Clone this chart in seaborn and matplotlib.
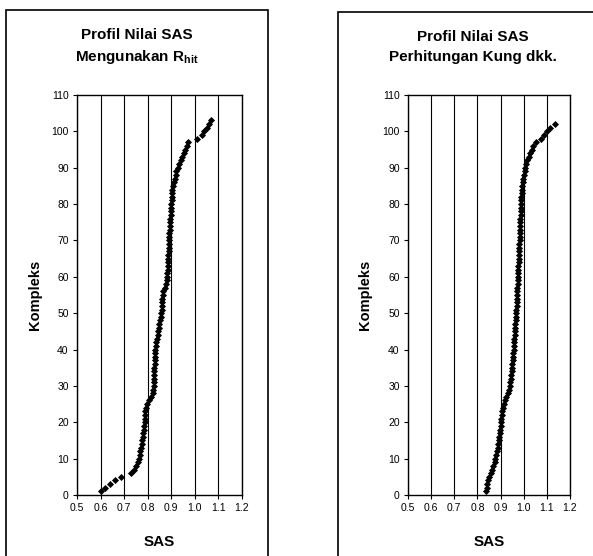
import matplotlib.pyplot as plt
from matplotlib.patches import Rectangle
import pandas as pd
import seaborn as sns

# Nilai SAS terurut (Kompleks = 1..n)
sas_rhit = [0.600, 0.620, 0.640, 0.660, 0.685, 0.727, 0.743, 0.752, 0.758, 0.763,
            0.766, 0.769, 0.771, 0.774, 0.777, 0.779, 0.782, 0.784, 0.786, 0.787,
            0.788, 0.789, 0.790, 0.793, 0.797, 0.804, 0.815, 0.822, 0.824, 0.825,
            0.826, 0.826, 0.827, 0.827, 0.828, 0.829, 0.830, 0.831, 0.832, 0.833,
            0.835, 0.837, 0.840, 0.842, 0.844, 0.846, 0.849, 0.852, 0.855, 0.858,
            0.860, 0.861, 0.862, 0.862, 0.863, 0.864, 0.872, 0.878, 0.881, 0.882,
            0.883, 0.884, 0.885, 0.886, 0.887, 0.888, 0.889, 0.889, 0.890, 0.890,
            0.891, 0.892, 0.893, 0.894, 0.895, 0.896, 0.897, 0.898, 0.899, 0.900,
            0.901, 0.902, 0.903, 0.905, 0.908, 0.912, 0.916, 0.920, 0.922, 0.928,
            0.934, 0.940, 0.946, 0.952, 0.958, 0.965, 0.972, 1.011, 1.030, 1.040,
            1.050, 1.060, 1.068]

sas_kung = [0.837, 0.840, 0.843, 0.846, 0.851, 0.857, 0.863, 0.869, 0.874, 0.878,
            0.882, 0.885, 0.887, 0.889, 0.892, 0.894, 0.896, 0.898, 0.900, 0.902,
            0.904, 0.906, 0.908, 0.911, 0.914, 0.918, 0.924, 0.930, 0.935, 0.939,
            0.942, 0.944, 0.946, 0.948, 0.950, 0.951, 0.952, 0.954, 0.955, 0.957,
            0.958, 0.959, 0.960, 0.961, 0.962, 0.963, 0.964, 0.965, 0.966, 0.967,
            0.968, 0.969, 0.970, 0.970, 0.971, 0.972, 0.973, 0.974, 0.974, 0.975,
            0.976, 0.976, 0.977, 0.978, 0.979, 0.980, 0.980, 0.981, 0.981, 0.982,
            0.983, 0.983, 0.984, 0.985, 0.986, 0.986, 0.987, 0.987, 0.988, 0.988,
            0.989, 0.990, 0.991, 0.992, 0.994, 0.996, 0.998, 1.001, 1.004, 1.007,
            1.011, 1.016, 1.022, 1.028, 1.035, 1.042, 1.052, 1.073, 1.087, 1.101,
            1.112, 1.135]

judul_rhit = r'Profil Nilai SAS' + '\n' + r'Mengunakan R$_\mathbf{hit}$'
judul_kung = 'Profil Nilai SAS\nPerhitungan Kung dkk.'
x_ticks = [0.5, 0.6, 0.7, 0.8, 0.9, 1.0, 1.1, 1.2]
y_ticks = [0, 10, 20, 30, 40, 50, 60, 70, 80, 90, 100, 110]

sns.set_style('ticks')
plt.rcParams['font.family'] = ['Liberation Sans', 'DejaVu Sans']
plt.rcParams['mathtext.fontset'] = 'custom'
plt.rcParams['mathtext.rm'] = 'Liberation Sans'
plt.rcParams['mathtext.bf'] = 'Liberation Sans:bold'
plt.rcParams['text.color'] = 'black'
plt.rcParams['axes.labelcolor'] = 'black'

W, H = 593, 556
fig = plt.figure(figsize=(W / 100, H / 100), dpi=100)


def rect_px(x0, y0, x1, y1):
    # coin en pixels -> fraction de figure
    return [x0 / W, 1 - y1 / H, (x1 - x0) / W, (y1 - y0) / H]


panels = [
    (sas_rhit, judul_rhit, (6, 10, 268), (77, 95, 242, 495), 35),
    (sas_kung, judul_kung, (338, 12, 608), (408, 95, 570, 495), 365),
]

for data, judul, box, ax_px, ylab_x in panels:
    # cadre du graphique (chart area)
    fig.add_artist(Rectangle((box[0] / W, -0.05), (box[2] - box[0]) / W,
                             1 - box[1] / H + 0.05, transform=fig.transFigure,
                             fill=False, ec='black', lw=1.2))
    fig.text((box[0] + box[2]) / 2 / W, 1 - 47 / H, judul, ha='center',
             va='center', fontsize=11, fontweight='bold', linespacing=1.5)

    ax = fig.add_axes(rect_px(*ax_px))
    df = pd.DataFrame({'SAS': data, 'Kompleks': range(1, len(data) + 1)})
    sns.scatterplot(data=df, x='SAS', y='Kompleks', ax=ax, marker='D', s=13,
                    color='black', linewidth=0, legend=False, zorder=3)

    ax.set_xlim(0.5, 1.2)
    ax.set_ylim(0, 110)
    ax.set_xticks(x_ticks)
    ax.set_xticklabels([f'{t:.1f}' for t in x_ticks])
    ax.set_yticks(y_ticks)
    ax.grid(axis='x', color='black', lw=0.8)
    for sp in ax.spines.values():
        sp.set_visible(True)
        sp.set_color('black')
        sp.set_linewidth(1.0)
    ax.tick_params(direction='out', length=3, width=0.8, labelsize=7.5,
                   pad=3, colors='black')

    ax.set_xlabel('SAS', fontsize=11, fontweight='bold')
    ax.set_ylabel('Kompleks', fontsize=10.5, fontweight='bold')
    ax.xaxis.label.set_va('center')
    ax.yaxis.label.set_va('center')
    ax.xaxis.set_label_coords(0.5, (495 - 542) / 400)
    ax.yaxis.set_label_coords((ylab_x - ax_px[0]) / (ax_px[2] - ax_px[0]), 0.5)

fig.savefig('out.png', dpi=100)
